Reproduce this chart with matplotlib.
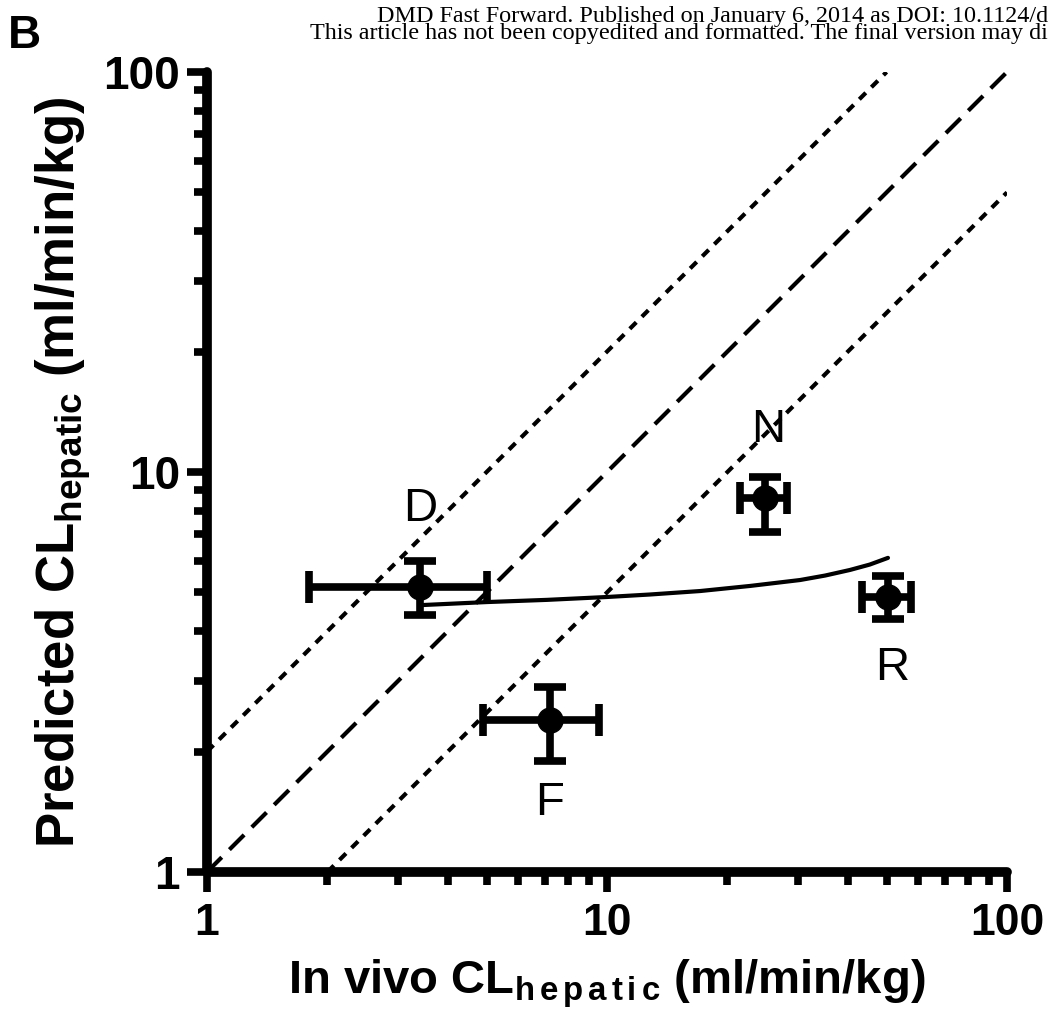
import matplotlib
matplotlib.use("Agg")
import matplotlib.pyplot as plt
import numpy as np
from matplotlib.ticker import FixedLocator, NullFormatter

plt.rcParams['font.family'] = ['Liberation Sans', 'DejaVu Sans']
plt.rcParams['mathtext.fontset'] = 'custom'
plt.rcParams['mathtext.bf'] = 'Liberation Sans:bold'
plt.rcParams['mathtext.rm'] = 'Liberation Sans:bold'
plt.rcParams['mathtext.it'] = 'Liberation Sans:bold'

# ---- data ----
compounds = ["D", "F", "N", "R"]
invivo = [3.41, 7.2, 24.8, 50.4]
invivo_lo = [1.80, 4.90, 21.5, 43.4]
invivo_hi = [5.01, 9.55, 28.2, 57.5]
predicted = [5.16, 2.40, 8.61, 4.87]
predicted_lo = [4.39, 1.895, 7.08, 4.29]
predicted_hi = [5.99, 2.90, 9.72, 5.50]

curve_x = [3.47, 5.01, 7.08, 10.0, 12.8, 17.1, 22.8, 30.4, 35.1, 40.5, 45.4, 50.4]
curve_y = [4.65, 4.73, 4.79, 4.87, 4.94, 5.04, 5.19, 5.37, 5.51, 5.69, 5.87, 6.10]

label_x = [3.41, 7.2, 25.3, 51.6]
label_y = [7.54, 1.39, 11.9, 3.02]

unity = [1, 100]
twofold_up_x = [1, 50]
twofold_lo_x = [2, 100]

major_ticks = [1, 10, 100]
major_labels = ["1", "10", "100"]
minor_ticks = [2, 3, 4, 5, 6, 7, 8, 9, 20, 30, 40, 50, 60, 70, 80, 90]

header = ("DMD Fast Forward. Published on January 6, 2014 as DOI: 10.1124/d\n"
          "This article has not been copyedited and formatted. The final version may di")

W, H = 1049, 1027
fig = plt.figure(figsize=(W / 100, H / 100), dpi=100)
ax = fig.add_axes([207 / W, 1 - 872 / H, 800 / W, 800 / H])
ax.set_xscale('log')
ax.set_yscale('log')
ax.set_xlim(1, 100)
ax.set_ylim(1, 100)

# reference lines
ax.plot(unity, unity, color='black', lw=3, linestyle=(0, (5, 2.6)))
ax.plot(twofold_up_x, [2 * v for v in twofold_up_x], color='black', lw=3,
        linestyle=(0, (2.2, 1.9)))
ax.plot(twofold_lo_x, [v / 2 for v in twofold_lo_x], color='black', lw=3,
        linestyle=(0, (2.2, 1.9)))

# model curve
ax.plot(curve_x, curve_y, color='black', lw=3, solid_capstyle='round')

# data points
x = np.array(invivo); y = np.array(predicted)
xerr = [x - np.array(invivo_lo), np.array(invivo_hi) - x]
yerr = [y - np.array(predicted_lo), np.array(predicted_hi) - y]
ax.errorbar(x, y, xerr=xerr, yerr=yerr, fmt='o', color='black', ms=18,
            elinewidth=5.5, capsize=11.5, capthick=5.5, zorder=5)

for name, lx, ly in zip(compounds, label_x, label_y):
    ax.text(lx, ly, name, fontsize=34, ha='center', va='baseline')

# axes styling
for s in ['top', 'right']:
    ax.spines[s].set_visible(False)
for s in ['left', 'bottom']:
    ax.spines[s].set_linewidth(7)
    ax.spines[s].set_capstyle('round')

for axis in (ax.xaxis, ax.yaxis):
    axis.set_major_locator(FixedLocator(major_ticks))
    axis.set_minor_locator(FixedLocator(minor_ticks))
    axis.set_minor_formatter(NullFormatter())
ax.set_xticks(major_ticks)
ax.set_xticklabels(major_labels)
ax.set_yticks(major_ticks)
ax.set_yticklabels(major_labels)
ax.tick_params(which='major', direction='out', length=14.5, width=5.5)
ax.tick_params(which='minor', direction='out', length=9.5, width=5.5)
ax.tick_params(axis='x', which='major', pad=8, labelsize=32)
ax.tick_params(axis='y', which='major', pad=5, labelsize=33)
for lab in ax.get_xticklabels() + ax.get_yticklabels():
    lab.set_fontweight('bold')

# axis titles
fig.text(607 / W, 1 - 993 / H,
         r"In vivo CL$_{\mathbf{h\,e\,p\,a\,t\,i\,c}}$ (ml/min/kg)",
         fontsize=34, fontweight='bold', ha='center', va='baseline')
fig.text(75 / W, 1 - 472 / H, r"Predicted CL$_{\mathbf{hepatic}}$ (ml/min/kg)",
         fontsize=38, fontweight='bold', ha='center', va='baseline',
         rotation=90, rotation_mode='anchor')

# panel letter and header
fig.text(8 / W, 1 - 48 / H, "B", fontsize=33, fontweight='bold',
         ha='left', va='baseline')
fig.text(1048 / W, 1 - 39 / H, header, fontsize=17.4,
         family=['Liberation Serif'], ha='right', va='baseline',
         multialignment='right', linespacing=0.74)

fig.savefig("out.png", dpi=100)
